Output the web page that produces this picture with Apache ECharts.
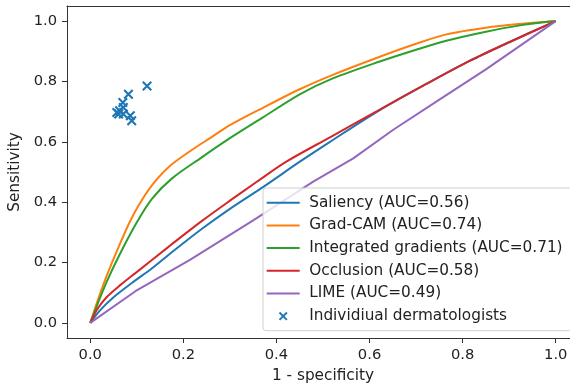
<!DOCTYPE html>
<html>
<head>
<meta charset="utf-8">
<script src="https://cdn.jsdelivr.net/npm/echarts@6/dist/echarts.min.js"></script>
<style>html,body{margin:0;padding:0;background:#fff}#c{width:570px;height:390px}</style>
</head>
<body>
<div id="c"></div>
<script>
var tickValues = [0, 0.2, 0.4, 0.6, 0.8, 1.0];

var saliency = [[0,0],[0.02,0.04],[0.05,0.085],[0.09,0.133],[0.132,0.18],[0.18,0.24],[0.24,0.312],[0.3,0.378],[0.371,0.45],[0.451,0.535],[0.515,0.6],[0.622,0.705],[0.72,0.79],[0.815,0.868],[0.9,0.93],[1,1]];
var gradcam = [[0,0],[0.015,0.07],[0.035,0.155],[0.061,0.252],[0.085,0.335],[0.104,0.39],[0.132,0.455],[0.168,0.516],[0.218,0.573],[0.26,0.615],[0.3,0.655],[0.37,0.712],[0.451,0.775],[0.521,0.822],[0.622,0.882],[0.7,0.925],[0.765,0.956],[0.85,0.978],[0.92,0.99],[1,1]];
var intgrad = [[0,0],[0.015,0.06],[0.035,0.135],[0.061,0.22],[0.097,0.325],[0.132,0.41],[0.175,0.478],[0.238,0.547],[0.3,0.612],[0.37,0.68],[0.451,0.758],[0.521,0.81],[0.622,0.866],[0.7,0.905],[0.765,0.935],[0.85,0.965],[0.92,0.985],[1,1]];
var occlusion = [[0,0],[0.015,0.045],[0.035,0.085],[0.065,0.126],[0.097,0.165],[0.168,0.252],[0.24,0.338],[0.3,0.405],[0.36,0.47],[0.422,0.535],[0.515,0.615],[0.622,0.707],[0.72,0.79],[0.815,0.868],[0.9,0.93],[1,1]];
var lime = [[0,0],[0.097,0.105],[0.215,0.21],[0.35,0.34],[0.479,0.468],[0.565,0.545],[0.651,0.64],[0.75,0.74],[0.85,0.84],[1,1]];
var dermatologists = [[0.122,0.785],[0.082,0.758],[0.070,0.730],[0.071,0.714],[0.063,0.703],[0.061,0.692],[0.071,0.692],[0.086,0.686],[0.089,0.670],[0.057,0.697]];

var seriesNames = ['Saliency (AUC=0.56)','Grad-CAM (AUC=0.74)','Integrated gradients (AUC=0.71)','Occlusion (AUC=0.58)','LIME (AUC=0.49)','Individiual dermatologists'];
var colors = ['#1f77b4','#ff7f0e','#2ca02c','#d62728','#9467bd'];

var FONT = 'DejaVu Sans';
var TICK_FS = 14.7, LABEL_FS = 15.3;
var xPath = 'path://M0,1.5L1.5,0L10,8.5L8.5,10ZM8.5,0L10,1.5L1.5,10L0,8.5Z';
var xLegendPath = 'path://M-3,-3L-2.99,-3L-3,-2.99ZM13,13L12.99,13L13,12.99ZM0,1.5L1.5,0L10,8.5L8.5,10ZM8.5,0L10,1.5L1.5,10L0,8.5Z';
var lineIcon = 'path://M0,0L33,0L33,2L0,2Z';

function lineSeries(name, data, color, smooth) {
  return {
    name: name, type: 'line', data: data, smooth: smooth, symbol: 'none',
    lineStyle: {color: color, width: 2}, itemStyle: {color: color},
    emphasis: {disabled: true}, animation: false
  };
}

var legendData = seriesNames.map(function(n, i){
  return i < 5 ? {name: n, icon: lineIcon, itemStyle: {color: colors[i]}} : {name: n, icon: xLegendPath, itemStyle: {color: colors[0]}};
});

var spine = {show: true, onZero: false, lineStyle: {color: '#333', width: 1}};

var chart = echarts.init(document.getElementById('c'), null, {renderer: 'canvas'});
chart.setOption({
  animation: false,
  textStyle: {fontFamily: FONT},
  grid: {left: 67, top: 6, width: 512, height: 332, show: false, containLabel: false, outerBoundsMode: 'none'},
  xAxis: [{
    type: 'value', min: -0.05, max: 1.05, position: 'bottom',
    name: '1 - specificity', nameLocation: 'middle', nameGap: 31,
    nameTextStyle: {fontFamily: FONT, fontSize: LABEL_FS, color: '#222'},
    axisLine: spine,
    axisTick: {show: true, inside: false, length: 5, lineStyle: {color: '#333', width: 1}, customValues: tickValues},
    axisLabel: {margin: 10, fontFamily: FONT, fontSize: TICK_FS, color: '#222', customValues: tickValues, formatter: function(v){return v.toFixed(1);}},
    splitLine: {show: false}
  }, {
    type: 'value', min: -0.05, max: 1.05, position: 'top',
    axisLine: spine, axisTick: {show: false}, axisLabel: {show: false}, splitLine: {show: false}
  }],
  yAxis: {
    type: 'value', min: -0.05, max: 1.05,
    name: 'Sensitivity', nameLocation: 'middle', nameGap: 43, nameRotate: 90,
    nameTextStyle: {fontFamily: FONT, fontSize: LABEL_FS, color: '#222'},
    axisLine: spine,
    axisTick: {show: true, inside: false, length: 5, lineStyle: {color: '#333', width: 1}, customValues: tickValues},
    axisLabel: {margin: 10, fontFamily: FONT, fontSize: TICK_FS, color: '#222', customValues: tickValues, formatter: function(v){return v.toFixed(1);}},
    splitLine: {show: false}
  },
  legend: {
    orient: 'vertical', left: 263, top: 188,
    padding: [7.2, 10, 7, 3.7],
    itemWidth: 33, itemHeight: 14, itemGap: 7.7,
    backgroundColor: 'rgba(255,255,255,0.8)', borderColor: '#d0d0d0', borderWidth: 1, borderRadius: 3,
    textStyle: {fontFamily: FONT, fontSize: LABEL_FS, color: '#222', lineHeight: 15, padding: [0,0,0,4.5]},
    data: legendData
  },
  series: [
    lineSeries(seriesNames[0], saliency, colors[0], 0.3),
    lineSeries(seriesNames[1], gradcam, colors[1], 0.3),
    lineSeries(seriesNames[2], intgrad, colors[2], 0.3),
    lineSeries(seriesNames[3], occlusion, colors[3], 0.3),
    lineSeries(seriesNames[4], lime, colors[4], false),
    {
      name: seriesNames[5], type: 'scatter', data: dermatologists,
      symbol: xPath, symbolSize: 10,
      itemStyle: {color: colors[0], opacity: 1},
      emphasis: {disabled: true}, animation: false
    }
  ]
});
</script>
</body>
</html>
